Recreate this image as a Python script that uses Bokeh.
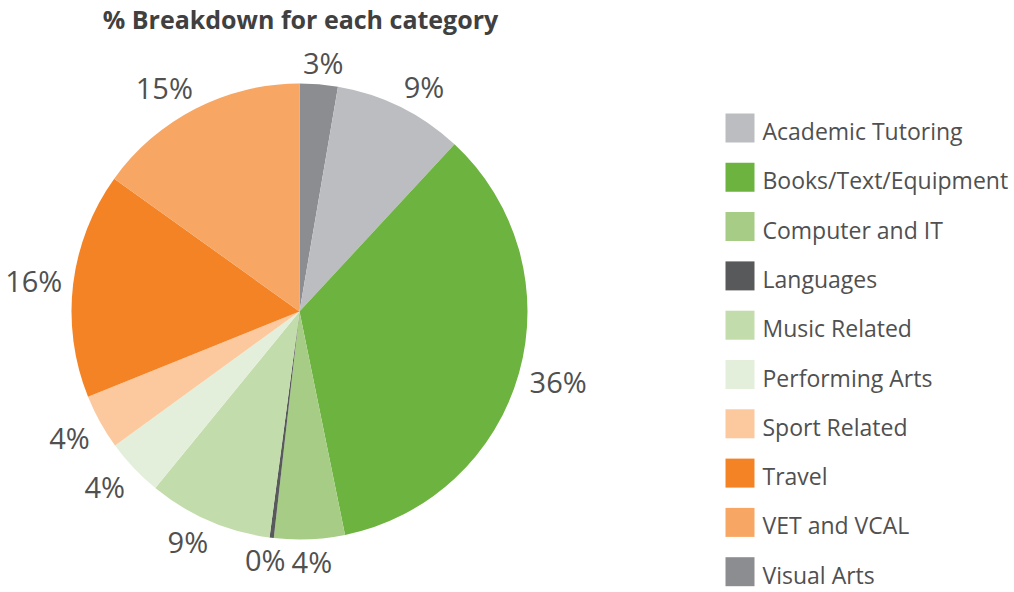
import math
from bokeh.plotting import figure
from bokeh.models import Range1d, ColumnDataSource
from bokeh.core.properties import value
from bokeh.embed import file_html
from bokeh.resources import INLINE

# ---- data (legend order) ----
categories = ["Academic Tutoring", "Books/Text/Equipment", "Computer and IT", "Languages",
              "Music Related", "Performing Arts", "Sport Related", "Travel", "VET and VCAL",
              "Visual Arts"]
shares = [9.2, 34.9, 5.0, 0.3, 8.8, 4.1, 3.9, 16.0, 15.1, 2.7]
pct_labels = ["9%", "36%", "4%", "0%", "9%", "4%", "4%", "16%", "15%", "3%"]
colors = ["#BCBDC0", "#6DB33F", "#A6CC86", "#58595B", "#C3DCAB", "#E3EFDB",
          "#FCC89E", "#F48325", "#F7A663", "#8C8D90"]
# pie is drawn clockwise from 12 o'clock starting with Visual Arts
pie_order = [9, 0, 1, 2, 3, 4, 5, 6, 7, 8]
title_text = "% Breakdown for each category"

W, H = 1014, 592
cx, cy_px, R = 299, 311, 228
cy = H - cy_px

p = figure(width=W, height=H, output_backend="svg", toolbar_location=None,
           x_range=Range1d(0, W), y_range=Range1d(0, H),
           x_axis_type=None, y_axis_type=None, min_border=0)
p.grid.visible = False
p.outline_line_color = None
p.background_fill_color = "white"
p.border_fill_color = "white"

total = sum(shares)
starts, ends, wcols = [], [], []
lx, ly, ltxt = [], [], []
cum = 0.0
for i in pie_order:
    a0 = cum / total * 2 * math.pi
    cum += shares[i]
    a1 = cum / total * 2 * math.pi
    starts.append(math.pi / 2 - a0)
    ends.append(math.pi / 2 - a1)
    wcols.append(colors[i])
    mid = (a0 + a1) / 2
    dx, dy = math.sin(mid), math.cos(mid)
    nd = len(pct_labels[i]) - 1
    hw = (15.0 * nd + 27) / 2
    hh = 11
    r_anchor = 239
    ax = cx + r_anchor * dx
    ay = cy + r_anchor * dy
    ox = math.copysign(hw * min(1.0, abs(dx) * 2), dx)
    oy = math.copysign(hh * min(1.0, abs(dy) * 2), dy)
    lx.append(ax + ox)
    ly.append(ay + oy)
    ltxt.append(pct_labels[i])

src = ColumnDataSource(dict(x=[cx] * len(starts), y=[cy] * len(starts),
                            s=starts, e=ends, c=wcols))
p.wedge(x="x", y="y", radius=R, start_angle="s", end_angle="e", direction="clock",
        fill_color="c", line_color=None, source=src)

p.text(x=lx, y=ly, text=ltxt, text_font=value("Open Sans"), text_font_size="29px",
       text_color="#505050", text_align="center", text_baseline="middle")

# title
p.text(x=[300], y=[H - 18], text=[title_text], text_font=value("Open Sans"),
       text_font_style="bold", text_font_size="25px", text_color="#404040",
       text_align="center", text_baseline="middle")

# legend
n = len(categories)
step = 49.3
sq_y = [H - (127.5 + step * k) for k in range(n)]
p.rect(x=[739.5] * n, y=sq_y, width=29, height=29, fill_color=colors, line_color=None)
tx_y = [H - (130.5 + step * k) for k in range(n)]
p.text(x=[762] * n, y=tx_y, text=categories, text_font=value("Open Sans"),
       text_font_size="23px", text_color="#505050", text_align="left",
       text_baseline="middle")

open("out.html", "w").write(file_html(p, INLINE))
